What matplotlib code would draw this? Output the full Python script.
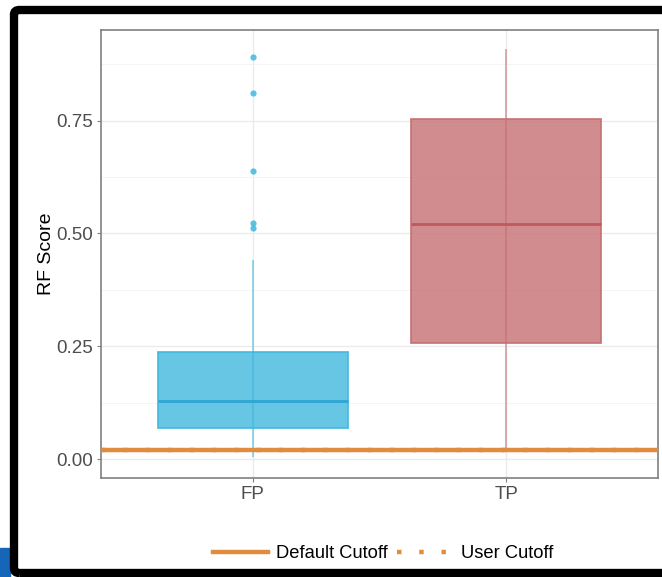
import matplotlib
matplotlib.use("Agg")
import matplotlib.pyplot as plt
from matplotlib.lines import Line2D
from matplotlib.patches import Rectangle, FancyBboxPatch
from matplotlib.colors import to_rgba

plt.rcParams['font.family'] = ['Liberation Sans', 'DejaVu Sans']

# data
groups = ["FP", "TP"]
q1 = [0.069, 0.257]
med = [0.128, 0.520]
q3 = [0.237, 0.754]
whislo = [0.005, 0.022]
whishi = [0.442, 0.909]
fp_outliers = [0.892, 0.812, 0.639, 0.524, 0.513]
tp_outliers = []
default_cutoff = 0.02
user_cutoff = 0.02

base = ["#41B8DD", "#C56F72"]
meds = ["#2EA5D3", "#C0595C"]
orange = "#E08B3E"
dotted = (0, (1, 4))

fig = plt.figure(figsize=(6.62, 5.77), dpi=100)
ax = fig.add_axes([101/662, 1 - 478/577, 557/662, 448/577])

stats = []
for i, g in enumerate(groups):
    stats.append(dict(label=g, q1=q1[i], med=med[i], q3=q3[i],
                      whislo=whislo[i], whishi=whishi[i],
                      fliers=[fp_outliers, tp_outliers][i]))

for i, s in enumerate(stats):
    # whisker line runs the full range, seen through the transparent box
    ax.vlines(i + 1, whislo[i], whishi[i], color=to_rgba(base[i], 0.6), lw=1.3, zorder=2)
    ax.bxp([s], positions=[i + 1], widths=0.75, patch_artist=True,
           showcaps=False,
           boxprops=dict(facecolor=to_rgba(base[i], 0.8),
                         edgecolor=to_rgba(base[i], 0.9), linewidth=1.3),
           medianprops=dict(color=meds[i], linewidth=2.0),
           whiskerprops=dict(color=to_rgba(base[i], 0.0), linewidth=0),
           flierprops=dict(marker='o', markersize=4.5, markerfacecolor=to_rgba(base[i], 0.85),
                           markeredgecolor='none'),
           zorder=3)

ax.axhline(default_cutoff, color=orange, lw=3.2, zorder=4)
ax.axhline(user_cutoff, color=orange, lw=3.2, ls=dotted, zorder=4)

ax.set_xlim(0.4, 2.6)
ax.set_ylim(-0.042, 0.951)
ax.set_xticks([1, 2])
ax.set_xticklabels(groups)
ax.set_yticks([0, 0.25, 0.5, 0.75])
ax.set_yticklabels(["0.00", "0.25", "0.50", "0.75"])
ax.set_yticks([0.125, 0.375, 0.625, 0.875], minor=True)
ax.grid(True, which='major', color="#EBEBEB", lw=1.0, zorder=0)
ax.grid(True, which='minor', axis='y', color="#F3F3F3", lw=0.6, zorder=0)
ax.set_axisbelow(True)
for sp in ax.spines.values():
    sp.set_color("#808080")
    sp.set_linewidth(1.2)
ax.tick_params(colors="#808080", labelcolor="#4D4D4D", labelsize=13.5, length=3, pad=2.5)
ax.tick_params(which='minor', length=0)
ax.set_ylabel("RF Score", fontsize=14, labelpad=1)

handles = [Line2D([], [], color=orange, lw=3.2),
           Line2D([], [], color=orange, lw=3.2, ls=dotted)]
fig.legend(handles, ["Default Cutoff", "User Cutoff"], loc='center',
           bbox_to_anchor=(383/662, 1 - 554/577), ncol=2, frameon=False,
           fontsize=13.2, handlelength=3.0, handletextpad=0.45, columnspacing=0.5)

# screenshot frame
fig.add_artist(Rectangle((0, 1 - 577/577), 10/662, 29/577, transform=fig.transFigure,
                         color="#1565B8", zorder=0))
fig.add_artist(FancyBboxPatch((14/662, 1 - 573/577), 660/662, 563/577,
                              boxstyle="round,pad=0,rounding_size=0.008",
                              transform=fig.transFigure, facecolor='none',
                              edgecolor='black', linewidth=6, zorder=0))

fig.savefig("out.png", dpi=100)
